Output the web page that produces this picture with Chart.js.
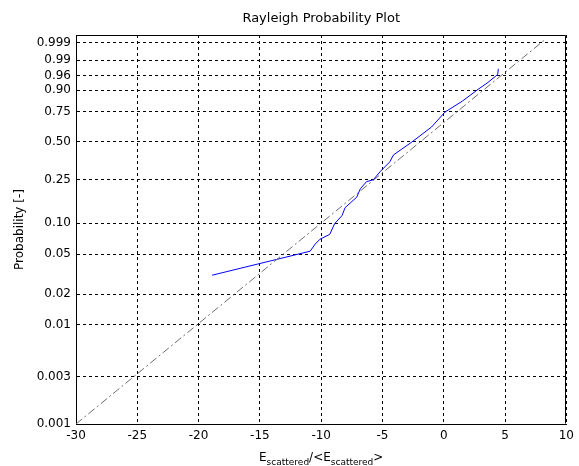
<!DOCTYPE html>
<html>
<head>
<meta charset="utf-8">
<script src="https://cdn.jsdelivr.net/npm/chart.js@4/dist/chart.umd.min.js"></script>
<style>
  html, body { margin: 0; padding: 0; background: #fff; }
  #wrap { width: 579px; height: 466px; position: relative; }
</style>
</head>
<body>
<div id="wrap"><canvas id="c" width="579" height="466"></canvas></div>
<script>
// ---- data ----
const xTicks = [-30, -25, -20, -15, -10, -5, 0, 5, 10];
const probTicks = [0.001, 0.003, 0.01, 0.02, 0.05, 0.10, 0.25, 0.50, 0.75, 0.90, 0.96, 0.99, 0.999];
const probTickLabels = ['0.001', '0.003', '0.01', '0.02', '0.05', '0.10', '0.25', '0.50', '0.75', '0.90', '0.96', '0.99', '0.999'];

// measured (empirical) curve: x in dB, y as probability
const dataX = [-18.9, -10.9, -10.5, -10.1, -9.3, -8.9, -8.3, -8.05, -7.1, -6.8, -6.3, -5.75, -5.2, -4.4, -4.1, -2.6, -1.0, 0.1, 1.5, 2.8, 3.6, 4.25, 4.4, 4.45];
const dataP = [0.031, 0.0535, 0.0625, 0.070, 0.078, 0.099, 0.118, 0.140, 0.175, 0.209, 0.241, 0.250, 0.293, 0.354, 0.401, 0.499, 0.624, 0.749, 0.831, 0.904, 0.936, 0.959, 0.964, 0.977];

// theoretical Rayleigh reference line
const refX = [-30, 8.36];
const refP = [0.001, 0.9995];

const yTopDb = 9.17;

// Rayleigh probability-paper transform
const toDb = p => 10 * Math.log10(-Math.log(1 - p));

const FONT = 'DejaVu Sans';

const framePlugin = {
  id: 'frame',
  afterDraw(chart) {
    const {ctx, chartArea: a} = chart;
    ctx.save();
    ctx.strokeStyle = '#000';
    ctx.lineWidth = 1;
    ctx.beginPath();
    ctx.moveTo(Math.round(a.left) + 0.5, Math.round(a.top) + 0.5);
    ctx.lineTo(Math.round(a.right) - 0.5, Math.round(a.top) + 0.5);
    ctx.lineTo(Math.round(a.right) - 0.5, Math.round(a.bottom) - 0.5);
    ctx.stroke();
    // x axis label with subscripts
    const parts = [
      ['E', 12, 0], ['scattered', 9, 4], ['/<E', 12, 0], ['scattered', 9, 4], ['>', 12, 0]
    ];
    let total = 0;
    parts.forEach(p => { ctx.font = p[1] + 'px "' + FONT + '"'; total += ctx.measureText(p[0]).width; });
    let x = (a.left + a.right) / 2 - total / 2;
    const base = 461;
    ctx.fillStyle = '#000';
    ctx.textBaseline = 'alphabetic';
    ctx.textAlign = 'left';
    parts.forEach(p => {
      ctx.font = p[1] + 'px "' + FONT + '"';
      ctx.fillText(p[0], x, base + p[2]);
      x += ctx.measureText(p[0]).width;
    });
    ctx.restore();
  }
};

new Chart(document.getElementById('c'), {
  type: 'scatter',
  data: {
    datasets: [
      {
        label: 'reference',
        data: refX.map((x, i) => ({x: x, y: toDb(refP[i])})),
        showLine: true,
        borderColor: '#6e6e6e',
        borderWidth: 1,
        borderDash: [8, 3, 2, 3],
        pointRadius: 0,
        fill: false
      },
      {
        label: 'data',
        data: dataX.map((x, i) => ({x: x, y: toDb(dataP[i])})),
        showLine: true,
        borderColor: '#0000ff',
        borderWidth: 1,
        pointRadius: 0,
        tension: 0,
        fill: false
      }
    ]
  },
  plugins: [framePlugin],
  options: {
    responsive: false,
    animation: false,
    devicePixelRatio: 1,
    layout: { padding: { left: 0, right: 10, top: 0, bottom: 0 } },
    plugins: {
      legend: { display: false },
      tooltip: { enabled: false },
      title: {
        display: true,
        text: 'Rayleigh Probability Plot',
        fullSize: false,
        color: '#000',
        font: { family: FONT, size: 13, weight: 'normal', lineHeight: 1.2 },
        padding: { top: 11, bottom: 8.4 }
      }
    },
    scales: {
      x: {
        type: 'linear',
        min: -30, max: 10,
        afterBuildTicks: s => { s.ticks = xTicks.map(v => ({value: v})); },
        afterFit: s => { s.height = 42; },
        ticks: {
          autoSkip: false, maxRotation: 0, padding: 5, color: '#000',
          font: { family: FONT, size: 12 },
          callback: v => String(v)
        },
        grid: { color: '#000', lineWidth: 1, drawTicks: false },
        border: { display: true, color: '#000', width: 1, dash: [3, 3] }
      },
      y: {
        type: 'linear',
        min: toDb(probTicks[0]), max: yTopDb,
        afterBuildTicks: s => { s.ticks = probTicks.map(p => ({value: toDb(p)})); },
        afterFit: s => { s.width = 76; },
        ticks: {
          autoSkip: false, padding: 5, color: '#000',
          font: { family: FONT, size: 12 },
          callback: (v, i) => probTickLabels[i]
        },
        grid: { color: '#000', lineWidth: 1, drawTicks: false },
        border: { display: true, color: '#000', width: 1, dash: [3, 3] },
        title: {
          display: true,
          text: 'Probability [-]',
          color: '#000',
          font: { family: FONT, size: 12, lineHeight: 1.2 },
          padding: { top: 13, bottom: 0 }
        }
      }
    }
  }
});
</script>
</body>
</html>
